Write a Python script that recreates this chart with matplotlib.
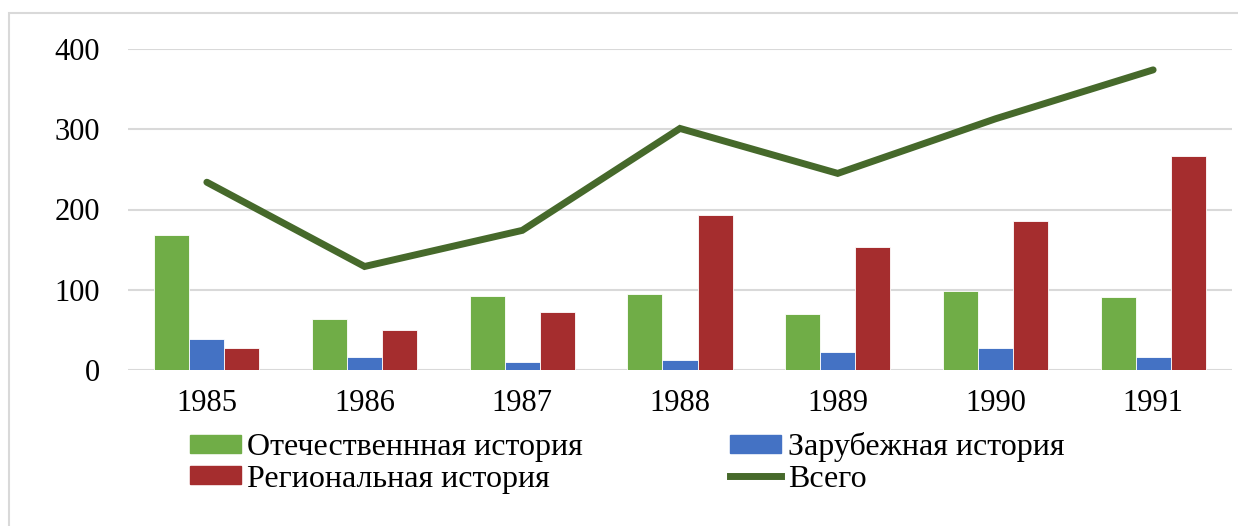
import numpy as np
import matplotlib
matplotlib.use("Agg")
import matplotlib.pyplot as plt
from matplotlib.patches import Rectangle, Patch
from matplotlib.lines import Line2D

# Данные
years = ["1985", "1986", "1987", "1988", "1989", "1990", "1991"]
domestic = [168, 63, 92, 95, 70, 99, 91]       # Отечественнная история
foreign = [39, 16, 10, 13, 22, 28, 16]         # Зарубежная история
regional = [27, 50, 72, 193, 153, 186, 267]    # Региональная история
total = [234, 129, 174, 301, 245, 313, 374]    # Всего

plt.rcParams['font.family'] = ['Liberation Serif', 'DejaVu Serif']

W, H = 1238, 526
fig = plt.figure(figsize=(W / 100, H / 100), dpi=100)
ax = fig.add_axes([128 / W, 1 - 370 / H, (1232 - 128) / W, (370 - 49) / H])

x = np.arange(len(years))
bw = 0.222
c_green, c_blue, c_red, c_line = "#70AD47", "#4472C4", "#A52D2E", "#46692B"

ax.bar(x - bw, domestic, bw, color=c_green, edgecolor="white", linewidth=0.6, zorder=2)
ax.bar(x, foreign, bw, color=c_blue, edgecolor="white", linewidth=0.6, zorder=2)
ax.bar(x + bw, regional, bw, color=c_red, edgecolor="white", linewidth=0.6, zorder=2)
ax.plot(x, total, color=c_line, linewidth=5, solid_capstyle="round",
        solid_joinstyle="miter", zorder=3)

ax.set_xlim(-0.5, len(years) - 0.5)
ax.set_ylim(0, 400)
ax.set_yticks([0, 100, 200, 300, 400])
ax.set_xticks(x)
ax.set_xticklabels(years)
ax.yaxis.grid(True, color="#D9D9D9", linewidth=1.5, zorder=0)
ax.set_axisbelow(True)
for s in ax.spines.values():
    s.set_visible(False)
ax.tick_params(axis="both", length=0, labelsize=22)
ax.tick_params(axis="y", pad=20)
ax.tick_params(axis="x", pad=14)

# рамка диаграммы
fig.patches.append(Rectangle((9 / W, -0.2), 1.5, 1.2 - 12.5 / H,
                             transform=fig.transFigure, fill=False,
                             edgecolor="#D9D9D9", linewidth=1.5))

handles = [Patch(color=c_green), Patch(color=c_red),
           Patch(color=c_blue), Line2D([0], [0], color=c_line, linewidth=5)]
labels = ["Отечественнная история", "Региональная история",
          "Зарубежная история", "Всего"]
fig.legend(handles, labels, ncol=2, frameon=False, fontsize=23,
           loc="upper left", bbox_to_anchor=(190 / W, 1 - 432 / H),
           handlelength=1.6, handleheight=0.5, handletextpad=0.2,
           labelspacing=0.08, columnspacing=4.6, borderpad=0, borderaxespad=0)

fig.savefig("out.png", dpi=100)
